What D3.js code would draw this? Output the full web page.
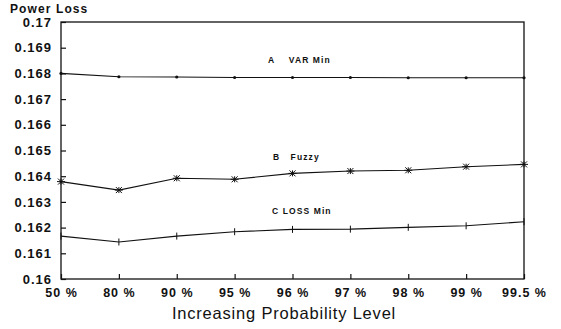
<!DOCTYPE html>
<html><head><meta charset="utf-8">
<script src="https://cdn.jsdelivr.net/npm/d3@7"></script>
<style>
body{margin:0;background:#fff;}
text{fill:#111;}
</style></head>
<body><svg id="c" width="561" height="329"></svg>
<script>
const categories = ["50 %","80 %","90 %","95 %","96 %","97 %","98 %","99 %","99.5 %"];
const varMin  = [0.16800,0.16787,0.16786,0.16784,0.16784,0.16784,0.16783,0.16783,0.16783];
const fuzzy   = [0.16379,0.16346,0.16392,0.16388,0.16411,0.16420,0.16423,0.16437,0.16446];
const lossMin = [0.16167,0.16144,0.16167,0.16184,0.16193,0.16194,0.16201,0.16207,0.16223];
const yTicks  = [0.16,0.161,0.162,0.163,0.164,0.165,0.166,0.167,0.168,0.169,0.17];
const yTickLabels = ["0.16","0.161","0.162","0.163","0.164","0.165","0.166","0.167","0.168","0.169","0.17"];
const seriesLabels = ["A    VAR Min","B   Fuzzy","C LOSS Min"];

const svg = d3.select("#c");
const L=61,R=524,T=22,B=279;
const x = d3.scalePoint().domain(categories).range([L,R]);
const y = d3.scaleLinear().domain([0.16,0.17]).range([B,T]);
const ink="#111";

// frame
svg.append("rect").attr("x",L).attr("y",T).attr("width",R-L).attr("height",B-T)
  .attr("fill","none").attr("stroke",ink).attr("stroke-width",1.3);

// y axis
const ya = svg.append("g").attr("transform",`translate(${L},0)`)
  .call(d3.axisLeft(y).tickValues(yTicks).tickFormat((d,i)=>yTickLabels[i]).tickSizeInner(-5).tickSizeOuter(0).tickPadding(9));
ya.select(".domain").remove();
ya.selectAll("line").attr("stroke",ink).attr("stroke-width",1.2);
ya.selectAll("text").attr("font-family","Liberation Sans, Arial, sans-serif").attr("font-weight","bold")
  .attr("font-size",13).attr("letter-spacing",1).attr("fill",ink);

// x axis
const xa = svg.append("g").attr("transform",`translate(0,${B})`)
  .call(d3.axisBottom(x).tickSizeInner(-5).tickSizeOuter(0).tickPadding(9));
xa.select(".domain").remove();
xa.selectAll("line").attr("stroke",ink).attr("stroke-width",1.2);
xa.selectAll("text").attr("font-family","Liberation Sans, Arial, sans-serif").attr("font-weight","bold")
  .attr("font-size",12.5).attr("letter-spacing",1).attr("fill",ink);

// titles
svg.append("text").attr("x",10).attr("y",13).text("Power Loss")
  .attr("font-family","Liberation Sans, Arial, sans-serif").attr("font-weight","bold").attr("font-size",12).attr("letter-spacing",1.1);
svg.append("text").attr("x",284).attr("y",319).attr("text-anchor","middle").text("Increasing Probability Level")
  .attr("font-family","Liberation Sans, Arial, sans-serif").attr("font-size",16.5).attr("letter-spacing",0.8);

const line = d3.line().x((d,i)=>x(categories[i])).y(d=>y(d));
const series=[varMin,fuzzy,lossMin];
series.forEach(s=>{
  svg.append("path").datum(s).attr("d",line).attr("fill","none").attr("stroke",ink).attr("stroke-width",1.1);
});
// markers
svg.selectAll(".ma").data(varMin).join("circle").attr("cx",(d,i)=>x(categories[i])).attr("cy",d=>y(d)).attr("r",1.6).attr("fill",ink);
fuzzy.forEach((d,i)=>{
  const g=svg.append("g").attr("transform",`translate(${x(categories[i])},${y(d)})`);
  [[-4,0,4,0],[-3,-3,3,3],[-3,3,3,-3],[0,-3,0,3]].forEach(a=>g.append("line").attr("x1",a[0]).attr("y1",a[1]).attr("x2",a[2]).attr("y2",a[3]).attr("stroke",ink).attr("stroke-width",1));
});
lossMin.forEach((d,i)=>{
  const g=svg.append("g").attr("transform",`translate(${x(categories[i])},${y(d)})`);
  g.append("line").attr("x1",0).attr("y1",-3.5).attr("x2",0).attr("y2",3.5).attr("stroke",ink).attr("stroke-width",1);
});

// series labels
const lab=[[268,63,seriesLabels[0]],[273,160,seriesLabels[1]],[272,214,seriesLabels[2]]];
lab.forEach(l=>svg.append("text").attr("x",l[0]).attr("y",l[1]).text(l[2]).style("white-space","pre")
  .attr("font-family","Liberation Sans, Arial, sans-serif").attr("font-weight","bold").attr("font-size",8.5).attr("letter-spacing",1.1));
</script></body></html>
